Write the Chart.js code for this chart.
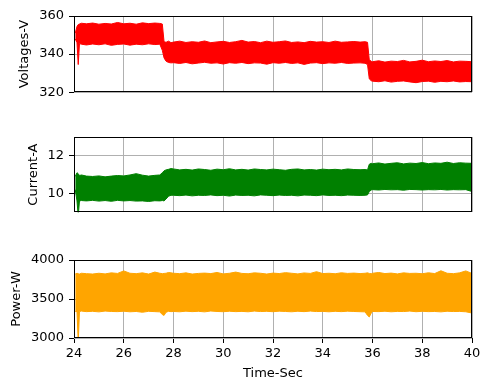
<!DOCTYPE html>
<html>
<head>
<meta charset="utf-8">
<script src="https://cdn.jsdelivr.net/npm/chart.js@4.4.0/dist/chart.umd.min.js"></script>
<style>
  body { margin: 0; background: #fff; }
  #wrap { position: relative; width: 490px; height: 390px; }
  canvas { position: absolute; left: 0; }
</style>
</head>
<body>
<div id="wrap">
  <canvas id="volt" width="490" height="105" style="top:0px"></canvas>
  <canvas id="curr" width="490" height="105" style="top:120px"></canvas>
  <canvas id="power" width="490" height="145" style="top:245px"></canvas>
</div>
<script>
// time axis shared by the three panels (sec)
var timeSec = [24.05, 24.12, 24.17, 24.22, 24.3,
    24.5, 24.75, 25.0, 25.25, 25.5, 25.75, 26.0, 26.25, 26.5, 26.75, 27.0, 27.25,
    27.45, 27.55, 27.62, 27.7, 27.8, 27.9,
    28.0, 28.25, 28.5, 28.75, 29.0, 29.25, 29.5, 29.75, 30.0, 30.25, 30.5, 30.75,
    31.0, 31.25, 31.5, 31.75, 32.0, 32.25, 32.5, 32.75, 33.0, 33.25, 33.5, 33.75,
    34.0, 34.25, 34.5, 34.75, 35.0, 35.25, 35.5,
    35.7, 35.8, 35.87, 35.95,
    36.0, 36.25, 36.5, 36.75, 37.0, 37.25, 37.5, 37.75, 38.0, 38.25, 38.5, 38.75,
    39.0, 39.25, 39.5, 39.75, 40.0];

// upper / lower edge of the noisy band
var voltHigh = [351, 354.5, 355.5, 355.8, 356.2,
    355.9, 356.3, 355.7, 356.1, 355.8, 356.6, 355.9, 356.2, 355.7, 356.4, 356.0, 356.3,
    356.1, 355.8, 346.5, 346.2, 346.8, 346.0,
    346.3, 346.8, 346.1, 346.5, 346.2, 346.9, 346.0, 346.4, 346.7, 346.1, 346.5, 347.2,
    346.3, 346.6, 346.0, 346.8, 346.2, 346.5, 346.9, 346.1, 346.4, 346.0, 346.7, 346.3,
    346.5, 346.1, 346.8, 346.2, 346.4, 346.6, 346.3,
    346.5, 346.2, 337.0, 336.2,
    336.0, 336.5, 335.8, 336.3, 336.1, 336.7, 335.9, 336.2, 336.8, 336.0, 336.4, 336.1,
    336.6, 335.9, 336.3, 336.2, 336.0];
var voltLow = [348, 346, 334.5, 345.5, 345.2,
    344.8, 345.3, 344.9, 345.4, 344.6, 345.1, 345.3, 344.7, 345.2, 344.9, 345.4, 345.0,
    345.2, 342, 338, 336.3, 335.6, 335.4,
    335.5, 335.1, 335.6, 334.9, 335.3, 335.7, 335.2, 335.4, 334.8, 335.5, 335.2, 335.6,
    335.0, 335.4, 335.3, 334.7, 335.5, 335.2, 335.6, 335.1, 335.4, 334.6, 335.3, 335.5,
    335.0, 335.4, 335.2, 335.6, 335.1, 335.3, 335.4,
    335.2, 334.5, 327.0, 326.0,
    325.8, 325.5, 326.0, 325.3, 325.7, 325.9, 325.4, 325.0, 325.6, 325.8, 325.2, 325.7,
    325.5, 325.9, 325.4, 325.6, 325.5];

var currHigh = [10.9, 11.1, 11.05, 10.95, 10.98,
    10.92, 10.9, 10.93, 10.88, 10.92, 10.95, 10.93, 10.98, 11.05, 10.97, 10.92, 10.96,
    10.98, 11.1, 11.2, 11.25, 11.28, 11.32,
    11.3, 11.25, 11.28, 11.24, 11.3, 11.27, 11.23, 11.29, 11.26, 11.31, 11.25, 11.28,
    11.24, 11.3, 11.27, 11.25, 11.29, 11.26, 11.23, 11.28, 11.3, 11.25, 11.27, 11.24,
    11.29, 11.26, 11.28, 11.25, 11.3, 11.27, 11.26,
    11.27, 11.25, 11.55, 11.6,
    11.58, 11.62, 11.56, 11.6, 11.63, 11.57, 11.61, 11.59, 11.64, 11.58, 11.62, 11.6,
    11.66, 11.59, 11.63, 11.61, 11.6];
var currLow = [10.2, 9.6, 8.8, 9.6, 9.62,
    9.6, 9.63, 9.59, 9.62, 9.58, 9.63, 9.6, 9.62, 9.59, 9.6, 9.57, 9.61,
    9.6, 9.62, 9.6, 9.7, 9.85, 9.9,
    9.9, 9.88, 9.91, 9.87, 9.9, 9.89, 9.92, 9.88, 9.9, 9.86, 9.91, 9.89,
    9.9, 9.87, 9.92, 9.9, 9.88, 9.91, 9.89, 9.9, 9.87, 9.91, 9.9, 9.88,
    9.92, 9.89, 9.9, 9.88, 9.91, 9.9, 9.89,
    9.9, 9.92, 10.1, 10.18,
    10.2, 10.18, 10.21, 10.19, 10.2, 10.17, 10.21, 10.2, 10.18, 10.2, 10.19, 10.21,
    10.18, 10.2, 10.19, 10.2, 10.1];

var powerHigh = [3820, 3830, 3825, 3820, 3830,
    3825, 3820, 3830, 3822, 3835, 3828, 3860, 3830, 3825, 3835, 3820, 3845,
    3830, 3825, 3828, 3830, 3840, 3835,
    3830, 3825, 3835, 3820, 3828, 3832, 3826, 3840, 3822, 3830, 3845, 3828,
    3824, 3835, 3830, 3820, 3832, 3826, 3838, 3830, 3822, 3834, 3828, 3850,
    3826, 3830, 3824, 3836, 3828, 3832, 3826,
    3830, 3835, 3828, 3825,
    3830, 3840, 3826, 3832, 3822, 3835, 3828, 3830, 3824, 3836, 3826, 3862,
    3830, 3825, 3835, 3860, 3828];
var powerLow = [3340, 3340, 2950, 3340, 3345,
    3338, 3342, 3335, 3345, 3340, 3338, 3343, 3336, 3340, 3330, 3342, 3338,
    3335, 3300, 3290, 3330, 3342, 3338,
    3340, 3336, 3344, 3338, 3342, 3335, 3346, 3340, 3337, 3343, 3338, 3341,
    3336, 3345, 3339, 3342, 3337, 3344, 3340, 3336, 3343, 3338, 3345, 3339,
    3341, 3336, 3342, 3338, 3344, 3340, 3337,
    3335, 3290, 3270, 3320,
    3340, 3338, 3343, 3336, 3341, 3339, 3345, 3337, 3342, 3338, 3340, 3335,
    3343, 3339, 3341, 3336, 3320];

var timeTicks = [24, 26, 28, 30, 32, 34, 36, 38, 40];
var voltTicks = [320, 340, 360];
var currTicks = [10, 12];
var powerTicks = [3000, 3500, 4000];

Chart.defaults.font.family = "'DejaVu Sans', sans-serif";
Chart.defaults.font.size = 13;
Chart.defaults.color = '#000';

// black box around the plot area, drawn over the data like matplotlib spines
var frame = {
    id: 'frame',
    afterDatasetsDraw: function (chart) {
        var a = chart.chartArea, ctx = chart.ctx;
        var l = Math.round(a.left) + 0.5, t = Math.round(a.top) + 0.5;
        var r = Math.round(a.right) - 0.5, b = Math.round(a.bottom) - 0.5;
        ctx.save();
        ctx.strokeStyle = '#000';
        ctx.lineWidth = 1;
        ctx.strokeRect(l, t, r - l, b - t);
        ctx.restore();
    }
};

function points(ys) {
    return timeSec.map(function (t, i) { return {x: t, y: ys[i]}; });
}

function plain(v) { return String(v); }

function panel(id, high, low, color, yMin, yMax, yTicks, yTitle, p) {
    var bottom = p.bottomAxis;
    new Chart(document.getElementById(id), {
        type: 'line',
        data: {
            datasets: [
                {data: points(high), borderColor: color, backgroundColor: color,
                    borderWidth: 1, pointRadius: 0, fill: '+1', tension: 0},
                {data: points(low), borderColor: color, backgroundColor: color,
                    borderWidth: 1, pointRadius: 0, fill: false, tension: 0}
            ]
        },
        options: {
            responsive: false,
            animation: false,
            events: [],
            layout: {padding: {left: p.left, top: p.top, right: 18, bottom: 0}},
            plugins: {legend: {display: false}, tooltip: {enabled: false}},
            scales: {
                x: {
                    type: 'linear', min: 24, max: 40,
                    afterBuildTicks: function (s) { s.ticks = timeTicks.map(function (v) { return {value: v}; }); },
                    afterFit: function (s) { s.height = p.xHeight; },
                    grid: {color: '#b0b0b0', lineWidth: 1, drawTicks: bottom, tickLength: 5,
                        tickColor: '#000', tickWidth: 1},
                    border: {display: false},
                    ticks: {display: bottom, padding: 3, maxRotation: 0, callback: plain},
                    title: {display: bottom, text: 'Time-Sec', padding: {top: 0, bottom: 9}}
                },
                y: {
                    min: yMin, max: yMax,
                    afterBuildTicks: function (s) { s.ticks = yTicks.map(function (v) { return {value: v}; }); },
                    afterFit: function (s) { s.width = 74 - p.left; },
                    grid: {color: '#b0b0b0', lineWidth: 1, tickLength: 5, tickColor: '#000', tickWidth: 1},
                    border: {display: false},
                    ticks: {padding: 5, callback: plain},
                    title: {display: true, text: yTitle, padding: {top: 0, bottom: 0}}
                }
            }
        },
        plugins: [frame]
    });
}

panel('volt', voltHigh, voltLow, '#ff0000', 320, 360, voltTicks, 'Voltages-V',
    {left: 17.2, top: 16, xHeight: 11, bottomAxis: false});
panel('curr', currHigh, currLow, '#008000', 9, 13, currTicks, 'Current-A',
    {left: 25.7, top: 17, xHeight: 10, bottomAxis: false});
panel('power', powerHigh, powerLow, '#ffa500', 3000, 4000, powerTicks, 'Power-W',
    {left: 8.9, top: 15, xHeight: 52, bottomAxis: true});
</script>
</body>
</html>
